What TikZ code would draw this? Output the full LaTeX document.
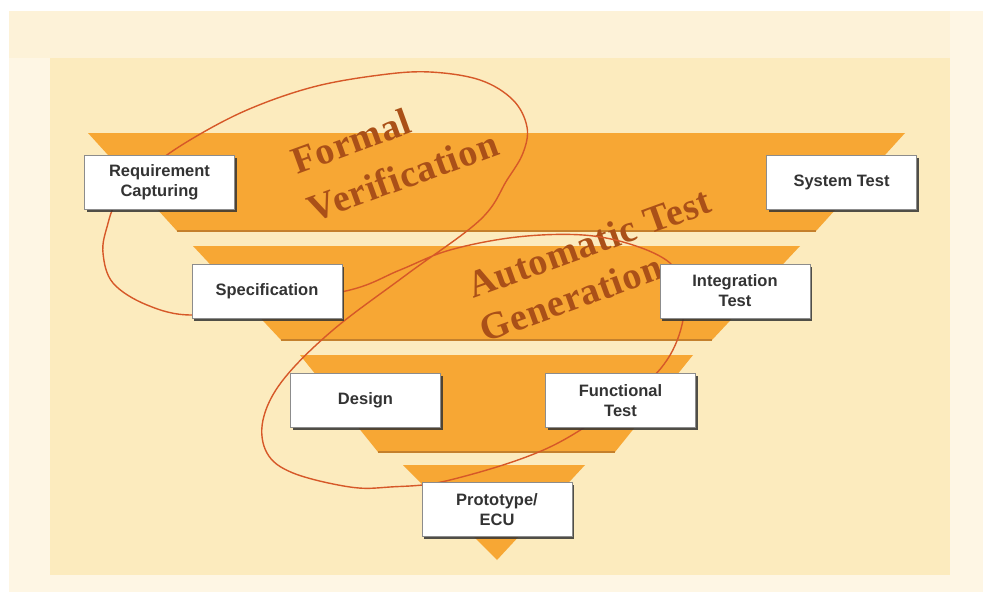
\documentclass[tikz,border=0pt]{standalone}
\usepackage{fontspec}
\usetikzlibrary{shadows}
\newfontfamily\boxfont{Liberation Sans}
\newfontfamily\lblfont{Liberation Serif}[LetterSpace=2]
\definecolor{bgwhite}{RGB}{255,255,255}
\definecolor{bgpale}{RGB}{254,246,228}
\definecolor{bgtop}{RGB}{253,242,216}
\definecolor{bgmain}{RGB}{252,235,190}
\definecolor{bandorange}{RGB}{247,167,52}
\definecolor{bandedge}{RGB}{196,128,44}
\definecolor{loopred}{RGB}{214,88,40}
\definecolor{lblbrown}{RGB}{170,80,24}
\tikzset{
  procbox/.style={draw=black!45, fill=white, line width=0.6pt,
    minimum width=150pt, minimum height=54pt, inner sep=0pt, align=center,
    font=\boxfont\bfseries\fontsize{16.5}{20}\selectfont, text=black!80,
    drop shadow={shadow xshift=2pt, shadow yshift=-2.5pt, fill=black!80, opacity=0.85}},
  band/.style={fill=bandorange},
  bandline/.style={draw=bandedge, line width=1.2pt},
  biglabel/.style={font=\lblfont\bfseries\fontsize{38}{40}\selectfont, text=lblbrown, rotate=20, inner sep=0pt},
  loopline/.style={draw=loopred, line width=1.4pt}
}
\begin{document}
\begin{tikzpicture}[x=1pt,y=-1pt]
\useasboundingbox (0,0) rectangle (983,592);
% background
\fill[bgwhite] (0,0) rectangle (983,592);
\fill[bgpale] (9,11) rectangle (983,592);
\fill[bgtop] (9,11) rectangle (950,58);
\fill[bgmain] (50,58) rectangle (950,575);
% bands
\fill[band] (88,133) -- (905,133) -- (816,231) -- (177,231) -- cycle;
\draw[bandline] (177,231) -- (816,231);
\fill[band] (193,246) -- (800,246) -- (712,340) -- (281,340) -- cycle;
\draw[bandline] (281,340) -- (712,340);
\fill[band] (300,355) -- (693,355) -- (615,452) -- (378,452) -- cycle;
\draw[bandline] (378,452) -- (615,452);
\fill[band] (403,465) -- (585,465) -- (497,560) -- cycle;
% labels
\node[biglabel] (formal) at (351,141) {Formal};
\node[biglabel] (verif) at (403,176) {Verification};
\node[biglabel] (autotest) at (589,243) {Automatic Test};
\node[biglabel] (gener) at (571,298) {Generation};
% figure-eight loop
\draw[loopline] plot[smooth cycle, tension=0.6] coordinates {
 (430,72) (480,80) (513,100) (527,127) (523,153) (507,180) (480,220)
 (406,275) (333,330) (283,380) (263,420) (267,453) (293,473) (350,487)
 (390,487) (450,480) (550,447) (633,393) (667,360) (683,320) (680,287)
 (670,263) (633,245) (583,235) (517,237) (450,250) (400,270) (350,290)
 (260,305) (192,315) (147,305) (113,283) (103,253) (107,227) (118,200)
 (150,168) (190,140) (247,110) (313,87) (380,75)};
% boxes
\node[procbox] (req) at (159.5,182.5) {Requirement\\Capturing};
\node[procbox] (sys) at (841.5,182.5) {System Test};
\node[procbox] (spec) at (267,291.5) {Specification};
\node[procbox] (integ) at (735,291) {Integration\\Test};
\node[procbox] (design) at (365.5,400.5) {Design};
\node[procbox] (func) at (620.5,400.5) {Functional\\Test};
\node[procbox] (proto) at (497,509.5) {Prototype/\\ECU};
\end{tikzpicture}
\end{document}
